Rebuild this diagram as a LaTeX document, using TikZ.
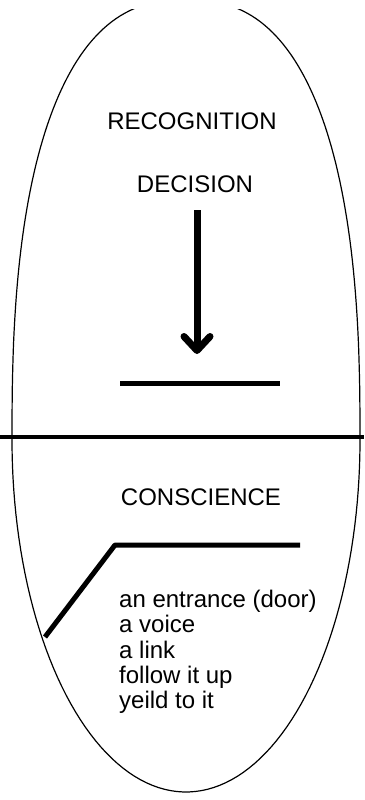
\documentclass[tikz,border=0pt]{standalone}
\usepackage{fontspec}
\setmainfont{Liberation Sans}
\usetikzlibrary{arrows.meta}

\begin{document}
\begin{tikzpicture}[x=1pt, y=-1pt,
                    label/.style={inner sep=0pt, font=\fontsize{24}{25.3}\selectfont},
                    bar/.style={line width=5pt},
                    egg/.style={line width=1.2pt, line join=round},
                    downarrow/.style={line width=7pt, -{Straight Barb[length=14pt, width=26pt, round]}}]
  \useasboundingbox (0,0) rectangle (364,800);
  % the egg, blunt above and round below
  \begin{scope}
    \clip (0,10) rectangle (364,800);
    \draw[egg] (360,440)
      -- plot[domain=1:179, samples=120] ({186+174*sign(cos(\x))*pow(abs(cos(\x)),0.8)}, {440-440*pow(sin(\x),0.8)})
      -- (12,440)
      -- plot[domain=180:360, samples=90] ({186+174*cos(\x)}, {440-352*sin(\x)});
  \end{scope}
  % the divide
  \coordinate (divleft) at (0,437);
  \coordinate (divright) at (364,437);
  \draw[line width=4pt] (divleft) -- (divright);
  % upper half
  \node[label] (recognition) at (192,121) {RECOGNITION};
  \node[label] (decision) at (195,184) {DECISION};
  \coordinate (arrowtop) at (197,210);
  \coordinate (arrowtip) at (197,354);
  \draw[downarrow] (arrowtop) -- (arrowtip);
  \coordinate (stopleft) at (120,383);
  \coordinate (stopright) at (280,383);
  \draw[bar] (stopleft) -- (stopright);
  % lower half
  \node[label] (conscience) at (201,497) {CONSCIENCE};
  \coordinate (doorfoot) at (45,637);
  \coordinate (doorhinge) at (115,545);
  \coordinate (doorend) at (300,545);
  \draw[bar, line join=round] (doorfoot) -- (doorhinge) -- (doorend);
  \node[label, align=left, anchor=north west] (list) at (119,590)
    {an entrance (door)\\a voice\\a link\\follow it up\\yeild to it};
\end{tikzpicture}
\end{document}
